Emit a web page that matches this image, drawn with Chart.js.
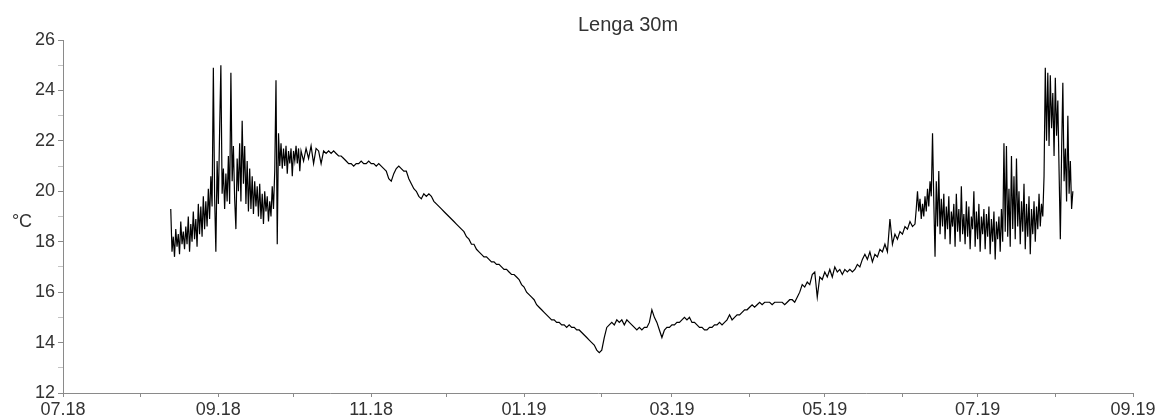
<!DOCTYPE html>
<html>
<head>
<meta charset="utf-8">
<script src="https://cdn.jsdelivr.net/npm/chart.js@4.4.1/dist/chart.umd.min.js"></script>
<style>
html, body { margin: 0; padding: 0; background: #fff; }
#wrap { width: 1163px; height: 419px; }
</style>
</head>
<body>
<div id="wrap"><canvas id="lenga"></canvas></div>
<script>
// days counted from 01.07.2018
var monthDays = [0, 31, 62, 92, 123, 153, 184, 215, 243, 274, 304, 335, 365, 396, 427];
var monthLabels = ['07.18', '', '09.18', '', '11.18', '', '01.19', '', '03.19', '', '05.19', '', '07.19', '', '09.19'];

// noisy start, two readings a day from day 43
var earlyStart = 43, earlyStep = 0.5;
var earlyTemps = [
19.3, 17.6, 18.2, 17.4, 18.5, 17.8, 18.3, 17.5, 18.8, 17.9,
18.4, 17.7, 18.6, 17.9, 19.0, 17.6, 18.7, 18.0, 19.2, 18.1,
18.9, 17.8, 19.5, 18.3, 19.4, 18.2, 19.8, 18.5, 19.6, 18.6,
20.1, 18.9, 20.6, 19.4, 24.9, 19.8, 17.6, 21.2, 19.5, 22.4,
25.0, 19.9, 20.9, 19.3, 20.7, 19.6, 21.4, 19.5, 24.7, 20.4,
21.8, 19.7, 18.5, 21.3, 20.0, 21.9, 19.6, 22.8, 20.3, 21.8,
19.5, 21.2, 19.2, 20.9, 19.3, 20.6, 19.1, 20.4, 19.4, 20.2,
19.0, 20.3, 18.9, 19.9, 18.7, 20.0, 19.2, 19.8, 18.8, 19.6,
19.0, 20.2, 19.3, 20.8, 24.4, 17.9, 22.3, 21.0, 21.9, 20.9,
21.7, 21.0, 21.8, 20.7, 21.6, 21.1, 21.7, 20.6, 21.6, 21.2,
21.8, 21.1, 21.7, 20.8
];

// smooth middle part, one reading a day from day 95
var midStart = 95, midStep = 1;
var midTemps = [
21.6, 21.2, 21.7, 21.3, 21.8, 21.1, 21.7, 21.6,
21.1, 21.6, 21.5, 21.6, 21.5, 21.6, 21.5, 21.4, 21.4, 21.3,
21.2, 21.1, 21.1, 21.0, 21.1, 21.1, 21.2, 21.1, 21.1, 21.2,
21.1, 21.1, 21.0, 21.1, 21.0, 20.9, 20.8, 20.5, 20.4, 20.7,
20.9, 21.0, 20.9, 20.8, 20.8, 20.5, 20.3, 20.1, 20.0, 19.8,
19.7, 19.9, 19.8, 19.9, 19.8, 19.6, 19.5, 19.4, 19.3, 19.2,
19.1, 19.0, 18.9, 18.8, 18.7, 18.6, 18.5, 18.4, 18.2, 18.1,
17.9, 17.9, 17.7, 17.6, 17.5, 17.4, 17.4, 17.3, 17.2, 17.2,
17.1, 17.1, 17.0, 16.9, 16.9, 16.8, 16.7, 16.7, 16.6, 16.5,
16.3, 16.2, 16.0, 15.9, 15.8, 15.7, 15.5, 15.4, 15.3, 15.2,
15.1, 15.0, 14.9, 14.9, 14.8, 14.8, 14.7, 14.7, 14.6, 14.7,
14.6, 14.6, 14.5, 14.5, 14.4, 14.3, 14.2, 14.1, 14.0, 13.9,
13.7, 13.6, 13.7, 14.2, 14.6, 14.7, 14.8, 14.7, 14.9, 14.8,
14.9, 14.7, 14.9, 14.8, 14.7, 14.6, 14.5, 14.6, 14.5, 14.6,
14.6, 14.8, 15.3, 15.0, 14.8, 14.5, 14.2, 14.5, 14.6, 14.6,
14.7, 14.7, 14.8, 14.8, 14.9, 15.0, 14.9, 15.0, 14.8, 14.8,
14.7, 14.6, 14.6, 14.5, 14.5, 14.6, 14.6, 14.7, 14.7, 14.8,
14.7, 14.8, 14.9, 15.1, 14.9, 15.0, 15.1, 15.1, 15.2, 15.3,
15.3, 15.4, 15.5, 15.4, 15.5, 15.6, 15.5, 15.6, 15.6, 15.6,
15.5, 15.6, 15.6, 15.6, 15.6, 15.5, 15.6, 15.7, 15.7, 15.6,
15.8, 16.0, 16.3, 16.2, 16.4, 16.3, 16.7, 16.8, 15.8, 16.6,
16.5, 16.8, 16.6, 16.9, 16.6, 17.0, 16.8, 16.9, 16.7, 16.9,
16.8, 16.9, 16.8, 16.9, 17.1, 17.0, 17.3, 17.5, 17.3, 17.6,
17.2, 17.5, 17.4, 17.7, 17.6, 17.9, 17.6, 18.9, 17.9, 18.3,
18.1, 18.4, 18.3, 18.6, 18.5, 18.8, 18.6
];

// noisy summer 2019, two readings a day from day 340
var lateStart = 340, lateStep = 0.5;
var lateTemps = [
18.7, 19.3, 20.0, 19.2, 19.7, 18.9, 19.5, 19.0, 19.8, 19.2,
20.1, 19.4, 20.4, 19.8, 22.3, 19.6, 17.4, 20.4, 18.6, 20.8,
18.3, 19.7, 18.6, 19.9, 18.1, 19.4, 18.5, 19.8, 17.9, 19.2,
18.6, 19.5, 17.8, 19.9, 18.4, 19.3, 18.0, 20.2, 18.3, 19.1,
17.9, 19.6, 18.2, 19.4, 17.7, 19.0, 18.5, 20.0, 17.8, 19.2,
18.1, 19.5, 17.6, 19.0, 18.3, 19.3, 17.7, 19.1, 18.2, 19.4,
17.5, 18.9, 18.0, 19.2, 17.3, 18.8, 18.1, 19.0, 17.6, 19.3,
18.0, 21.9, 18.4, 21.8, 18.2, 20.1, 17.8, 21.4, 18.5, 20.6,
18.1, 21.3, 18.6, 20.0, 17.9, 19.6, 18.4, 20.3, 17.7, 19.5,
18.2, 19.8, 17.5, 19.3, 18.3, 19.6, 18.0, 19.4, 18.5, 19.9,
18.6, 19.5, 19.0, 20.6, 24.9, 22.0, 24.7, 21.8, 24.6, 22.5,
23.9, 21.4, 24.5, 22.2, 23.6, 20.8, 18.1, 21.5, 24.3, 20.4,
21.7, 19.6, 23.0, 19.9, 21.2, 19.3, 20.0
];

function toPoints(start, step, temps) {
	return temps.map(function(t, i) { return { x: start + i * step, y: t }; });
}

var points = toPoints(earlyStart, earlyStep, earlyTemps)
	.concat(toPoints(midStart, midStep, midTemps))
	.concat(toPoints(lateStart, lateStep, lateTemps));

var textColor = '#333';
var axisColor = '#8a8a8a';

// title and unit label sit off-centre in the original, so draw them by hand
var labelsPlugin = {
	id: 'lengaLabels',
	afterDraw: function(chart) {
		var ctx = chart.ctx;
		ctx.save();
		ctx.fillStyle = textColor;
		ctx.textAlign = 'center';
		ctx.textBaseline = 'middle';
		ctx.font = '20px "Liberation Sans", Arial, sans-serif';
		ctx.fillText('Lenga 30m', 628, 25);
		ctx.font = '18px "Liberation Sans", Arial, sans-serif';
		ctx.fillText('°C', 22, 222);
		ctx.restore();
	}
};

var lengaConfig = {
	type: 'line',
	data: {
		datasets: [{
			data: points,
			borderColor: '#000',
			borderWidth: 1.2,
			pointRadius: 0,
			tension: 0,
			fill: false
		}]
	},
	options: {
		responsive: true,
		maintainAspectRatio: false,
		animation: false,
		layout: { padding: { top: 40, right: 30, left: 0, bottom: 0 } },
		plugins: {
			legend: { display: false },
			tooltip: { enabled: false }
		},
		scales: {
			x: {
				type: 'linear',
				min: 0,
				max: 427,
				afterBuildTicks: function(scale) {
					scale.ticks = monthDays.map(function(d) { return { value: d }; });
				},
				afterFit: function(scale) { scale.height = 26; },
				grid: { drawOnChartArea: false, drawTicks: true, tickLength: 4, color: axisColor },
				border: { color: axisColor, width: 1 },
				ticks: {
					autoSkip: false,
					maxRotation: 0,
					padding: 2,
					color: textColor,
					font: { family: '"Liberation Sans", Arial, sans-serif', size: 18 },
					callback: function(value, index) { return monthLabels[index]; }
				}
			},
			y: {
				min: 12,
				max: 26,
				afterFit: function(scale) { scale.width = 63; },
				grid: {
					drawOnChartArea: false,
					drawTicks: true,
					tickLength: 5,
					color: function(c) { return c.tick && c.tick.value % 2 === 0 ? axisColor : '#c4c4c4'; }
				},
				border: { color: axisColor, width: 1 },
				ticks: {
					stepSize: 1,
					padding: 3,
					color: textColor,
					font: { family: '"Liberation Sans", Arial, sans-serif', size: 18 },
					callback: function(value) { return value % 2 === 0 ? value : ''; }
				}
			}
		}
	},
	plugins: [labelsPlugin]
};

window.onload = function() {
	var ctx = document.getElementById('lenga').getContext('2d');
	window.lengaChart = new Chart(ctx, lengaConfig);
};
</script>
</body>
</html>
